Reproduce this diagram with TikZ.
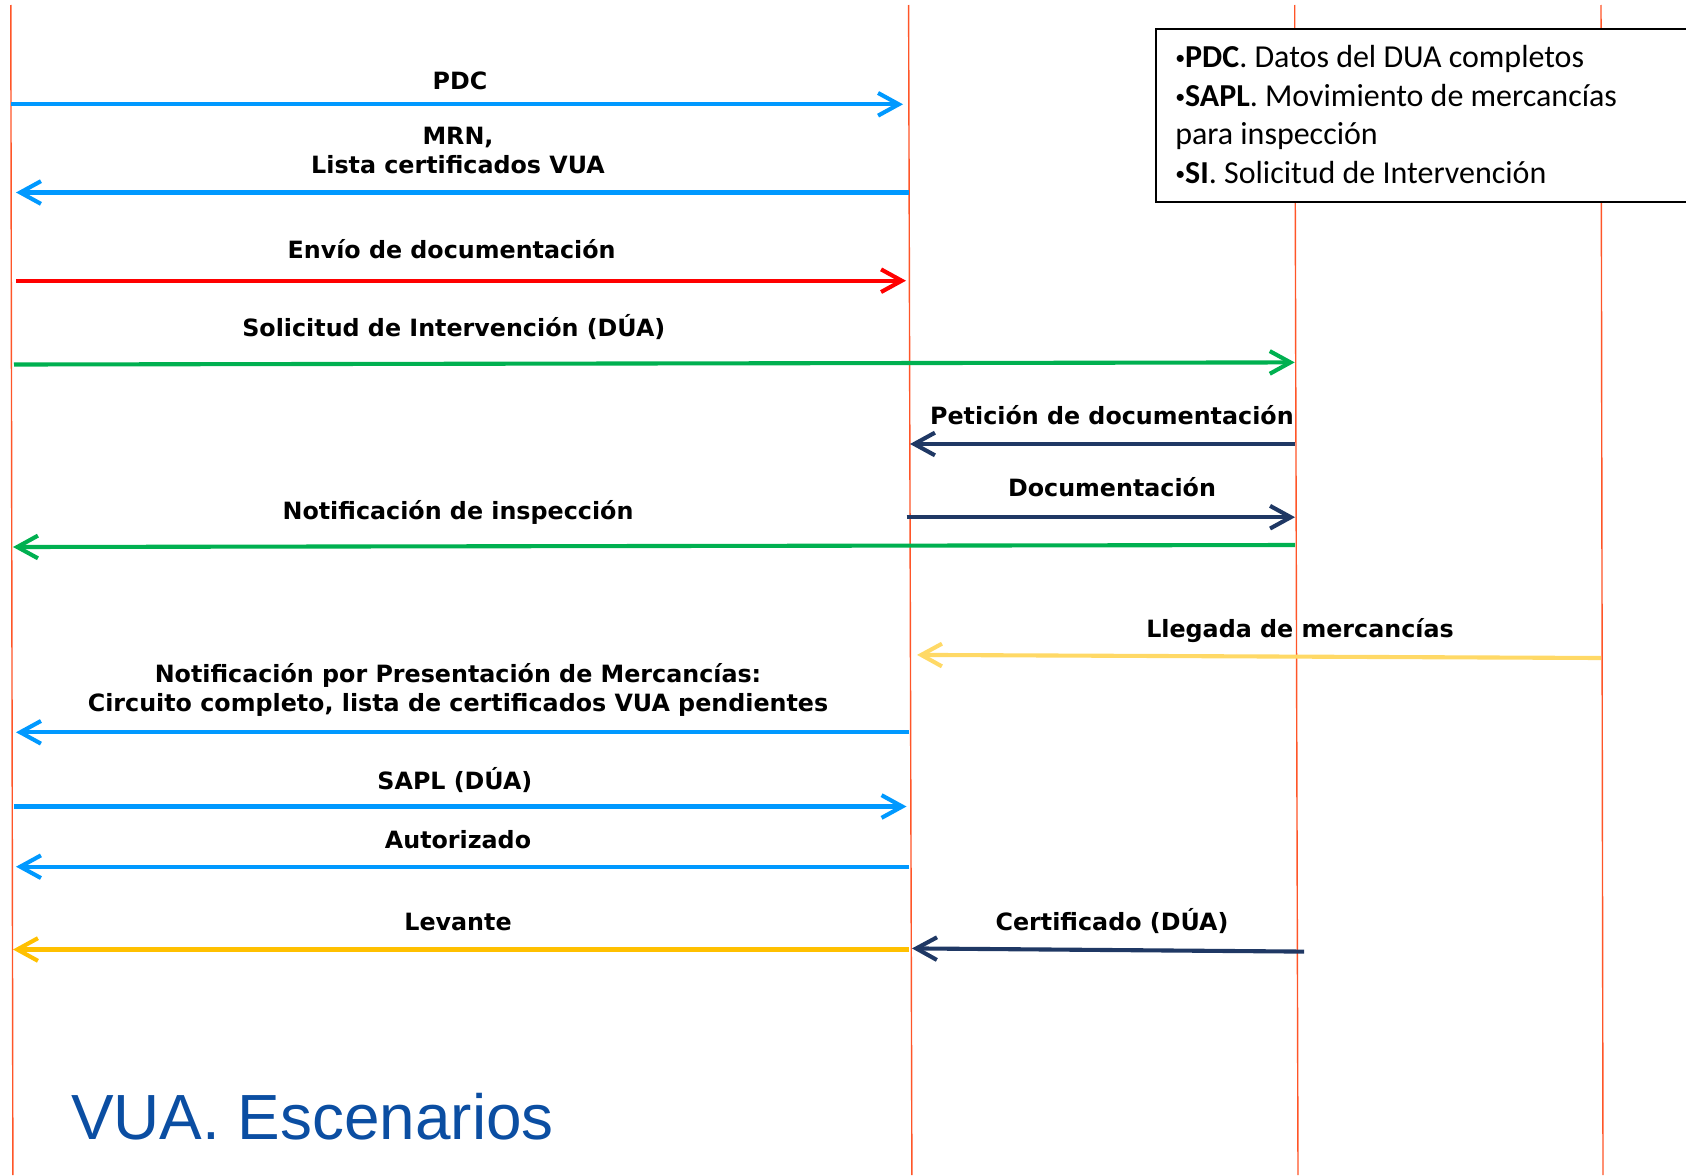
\documentclass[tikz,border=0pt]{standalone}
\usepackage{fontspec}
\setmainfont{DejaVu Sans}
\newfontfamily\legendfont{Carlito}
\newfontfamily\titlefont{Liberation Sans}
\usetikzlibrary{arrows.meta}

\definecolor{lifered}{RGB}{255,85,40}
\definecolor{msgblue}{RGB}{0,153,255}
\definecolor{msgred}{RGB}{255,0,0}
\definecolor{msggreen}{RGB}{0,176,80}
\definecolor{msgnavy}{RGB}{31,56,100}
\definecolor{msglight}{RGB}{255,217,102}
\definecolor{msggold}{RGB}{255,192,0}
\definecolor{titleblue}{RGB}{11,78,162}

\newcommand{\lbullet}{\raisebox{0.08em}{\fontsize{17}{17}\selectfont•}}

\begin{document}
\begin{tikzpicture}[
    x=0.03cm, y=-0.03cm,
    lifeline/.style={draw=lifered, line width=1.2pt},
    msg/.style={line width=3.5pt, -{Straight Barb[length=0.62cm, width=0.68cm]}},
    msglabel/.style={font=\fontsize{20.3}{24.7}\selectfont\bfseries, align=center, inner sep=0pt, anchor=base},
]
\useasboundingbox (0,0) rectangle (1686,1175);

% Lifelines
\coordinate (top1) at (10.8,5);    \coordinate (bot1) at (12.9,1175);
\coordinate (top2) at (908.6,5);   \coordinate (bot2) at (911.9,1175);
\coordinate (top3) at (1294.7,5);  \coordinate (bot3) at (1298,1175);
\coordinate (top4) at (1601,5);    \coordinate (bot4) at (1603,1175);
\draw[lifeline] (top1) -- (bot1);
\draw[lifeline] (top2) -- (bot2);
\draw[lifeline] (top3) -- (bot3);
\draw[lifeline] (top4) -- (bot4);

% Legend
\draw[line width=1.8pt, fill=white] (1156,29) rectangle (1692,202);
\node[anchor=north west, inner sep=0pt, align=left, font=\legendfont\fontsize{27.3}{33}\selectfont] (legend) at (1175,45)
    {\lbullet\textbf{PDC}. Datos del DUA completos\\
     \lbullet\textbf{SAPL}. Movimiento de mercancías\\
     para inspección\\
     \lbullet\textbf{SI}. Solicitud de Intervención};

% Message end points
\coordinate (pdcA) at (11,104.3);      \coordinate (pdcB) at (903,104.3);
\coordinate (mrnA) at (909,192.5);     \coordinate (mrnB) at (16,192.5);
\coordinate (envA) at (16,280.7);      \coordinate (envB) at (906,280.7);
\coordinate (solA) at (14,364.5);      \coordinate (solB) at (1294.7,362.4);
\coordinate (petA) at (1295,444);      \coordinate (petB) at (910,444);
\coordinate (docA) at (906.5,517.2);   \coordinate (docB) at (1295,517.2);
\coordinate (insA) at (1295,545);      \coordinate (insB) at (13,547);
\coordinate (lleA) at (1601,658);      \coordinate (lleB) at (917,654.9);
\coordinate (preA) at (909,732.3);     \coordinate (preB) at (16,732.3);
\coordinate (saplA) at (14,806.5);     \coordinate (saplB) at (906.5,806.5);
\coordinate (autA) at (909,866.7);     \coordinate (autB) at (16,866.7);
\coordinate (levA) at (909,949.5);     \coordinate (levB) at (13,949.5);
\coordinate (cerA) at (1304,951.6);    \coordinate (cerB) at (912,948.4);

% Messages
\draw[msg, msgblue] (pdcA) -- (pdcB);
\draw[msg, msgblue] (mrnA) -- (mrnB);
\draw[msg, msgred] (envA) -- (envB);
\draw[msg, msggreen] (solA) -- (solB);
\draw[msg, msgnavy] (petA) -- (petB);
\draw[msg, msgnavy] (docA) -- (docB);
\draw[msg, msggreen] (insA) -- (insB);
\draw[msg, msglight] (lleA) -- (lleB);
\draw[msg, msgblue] (preA) -- (preB);
\draw[msg, msgblue] (saplA) -- (saplB);
\draw[msg, msgblue] (autA) -- (autB);
\draw[msg, msggold] (levA) -- (levB);
\draw[msg, msgnavy] (cerA) -- (cerB);

% Labels
\node[msglabel] (pdc) at (460,89.3) {PDC};
\node[msglabel] (mrn) at (458,173) {MRN,\\Lista certificados VUA};
\node[msglabel] (env) at (451.6,258) {Envío de documentación};
\node[msglabel] (sol) at (453.8,336.6) {Solicitud de Intervención (DÚA)};
\node[msglabel] (pet) at (1111.9,424.7) {Petición de documentación};
\node[msglabel] (doc) at (1112,496.8) {Documentación};
\node[msglabel] (ins) at (458,519.4) {Notificación de inspección};
\node[msglabel] (lle) at (1300,637.6) {Llegada de mercancías};
\node[msglabel] (pre) at (458,711.8) {Notificación por Presentación de Mercancías:\\Circuito completo, lista de certificados VUA pendientes};
\node[msglabel] (sapl) at (454.9,789.3) {SAPL (DÚA)};
\node[msglabel] (aut) at (458,848.4) {Autorizado};
\node[msglabel] (lev) at (458,930.1) {Levante};
\node[msglabel] (cer) at (1112,930.1) {Certificado (DÚA)};

% Title
\node[anchor=base west, inner sep=0pt, text=titleblue, font=\titlefont\fontsize{54.5}{60}\selectfont] (title) at (71,1139.8) {VUA. Escenarios};

\end{tikzpicture}
\end{document}
